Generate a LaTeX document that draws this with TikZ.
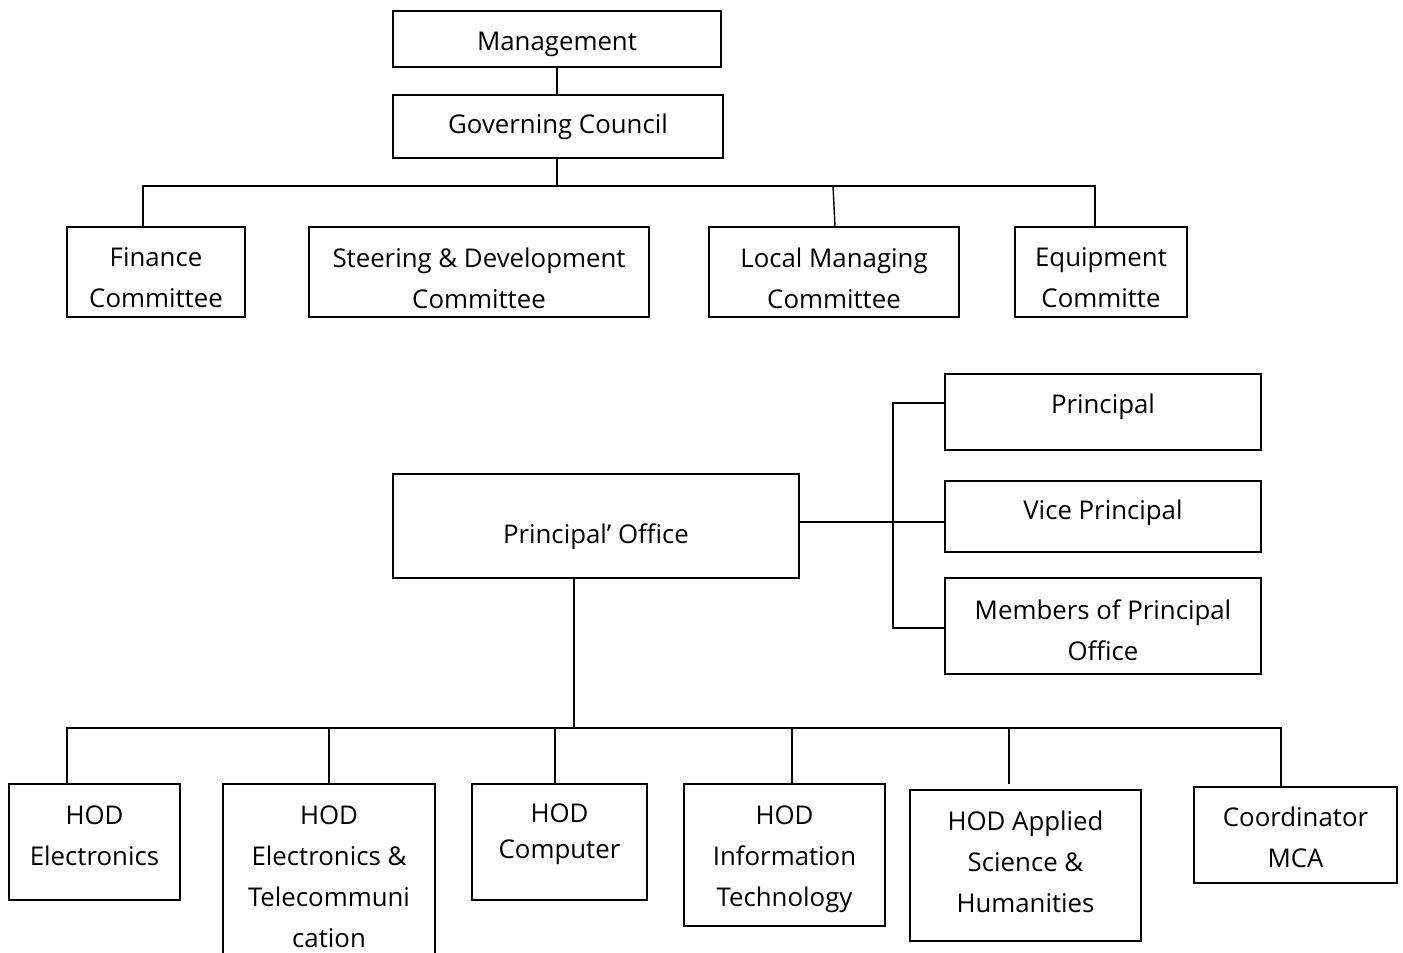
\documentclass[tikz,border=0pt]{standalone}
\usepackage{fontspec}
\setmainfont{Open Sans}
\begin{document}
\begin{tikzpicture}[x=1pt,y=-1pt,
  box/.style={draw, line width=1.6pt, inner sep=0pt},
  txt/.style={align=center, inner sep=0pt, font=\fontsize{25.8}{41}\selectfont},
  conn/.style={line width=1.4pt}]
\useasboundingbox (0,0) rectangle (1403,953);
\fill[white] (0,0) rectangle (1403,953);
\begin{scope}
\clip (0,0) rectangle (1403,953);
% boxes
\node[box, minimum width=328, minimum height=56] (mgmt) at (557,39) {};
\node[box, minimum width=330, minimum height=63] (gc) at (558,126.5) {};
\node[box, minimum width=178, minimum height=90] (fin) at (156,272) {};
\node[box, minimum width=340, minimum height=90] (steer) at (479,272) {};
\node[box, minimum width=250, minimum height=90] (local) at (834,272) {};
\node[box, minimum width=172, minimum height=90] (equip) at (1101,272) {};
\node[box, minimum width=316, minimum height=76] (prin) at (1103,412) {};
\node[box, minimum width=316, minimum height=71] (vice) at (1103,516.5) {};
\node[box, minimum width=316, minimum height=96] (memb) at (1103,626) {};
\node[box, minimum width=406, minimum height=104] (po) at (596,526) {};
\node[box, minimum width=171, minimum height=116] (hel) at (94.5,842) {};
\node[box, minimum width=212, minimum height=191] (het) at (329,879.5) {};
\node[box, minimum width=175, minimum height=116] (hcomp) at (559.5,842) {};
\node[box, minimum width=201, minimum height=142] (hit) at (784.5,855) {};
\node[box, minimum width=231, minimum height=151] (happ) at (1025.5,865.5) {};
\node[box, minimum width=203, minimum height=96] (coord) at (1295.5,835) {};
% texts
\node[txt] (tmgmt) at (557,44) {Management};
\node[txt] (tgc) at (558,127) {Governing Council};
\node[txt] (tfin) at (156,278) {Finance\\Committee};
\node[txt] (tsteer) at (479,278) {Steering \& Development\\Committee};
\node[txt] (tlocal) at (834,278) {Local Managing\\Committee};
\node[txt] (tequip) at (1101,278) {Equipment\\Committe};
\node[txt] (tprin) at (1103,407) {Principal};
\node[txt] (tvice) at (1103,513) {Vice Principal};
\node[txt] (tmemb) at (1103,630) {Members of Principal\\Office};
\node[txt] (tpo) at (596,537) {Principal’ Office};
\node[txt] (thel) at (94.5,835.5) {HOD\\Electronics};
\node[txt] (thet) at (329,876.5) {HOD\\Electronics \&\\Telecommuni\\cation};
\node[txt, font=\fontsize{25.8}{36}\selectfont] (thcomp) at (559.5,834) {HOD\\Computer};
\node[txt] (thit) at (784.5,859) {HOD\\Information\\Technology};
\node[txt] (thapp) at (1025.5,861.5) {HOD Applied\\Science \&\\Humanities};
\node[txt] (tcoord) at (1295.5,837.5) {Coordinator\\MCA};
% connectors top
\draw[conn] (557,0 |- mgmt.south) -- (557,0 |- gc.north);
\draw[conn] (557,0 |- gc.south) -- (557,186);
\draw[conn] (143,0 |- fin.north) -- (143,186) -- (1095,186) -- (1095,0 |- equip.north);
\draw[conn] (833,186) -- (835,0 |- local.north);
% principal office
\draw[conn] (po.east |- 0,522) -- (vice.west |- 0,522);
\draw[conn] (prin.west |- 0,403) -| (893,628) -- (memb.west |- 0,628);
\draw[conn] (574,0 |- po.south) -- (574,728);
% bottom bus
\draw[conn] (67,0 |- hel.north) -- (67,728) -- (1281,728) -- (1281,0 |- coord.north);
\draw[conn] (329,728) -- (329,0 |- het.north);
\draw[conn] (555,728) -- (555,0 |- hcomp.north);
\draw[conn] (792,728) -- (792,0 |- hit.north);
\draw[conn] (1009,728) -- (1009,784);
\end{scope}
\end{tikzpicture}
\end{document}
